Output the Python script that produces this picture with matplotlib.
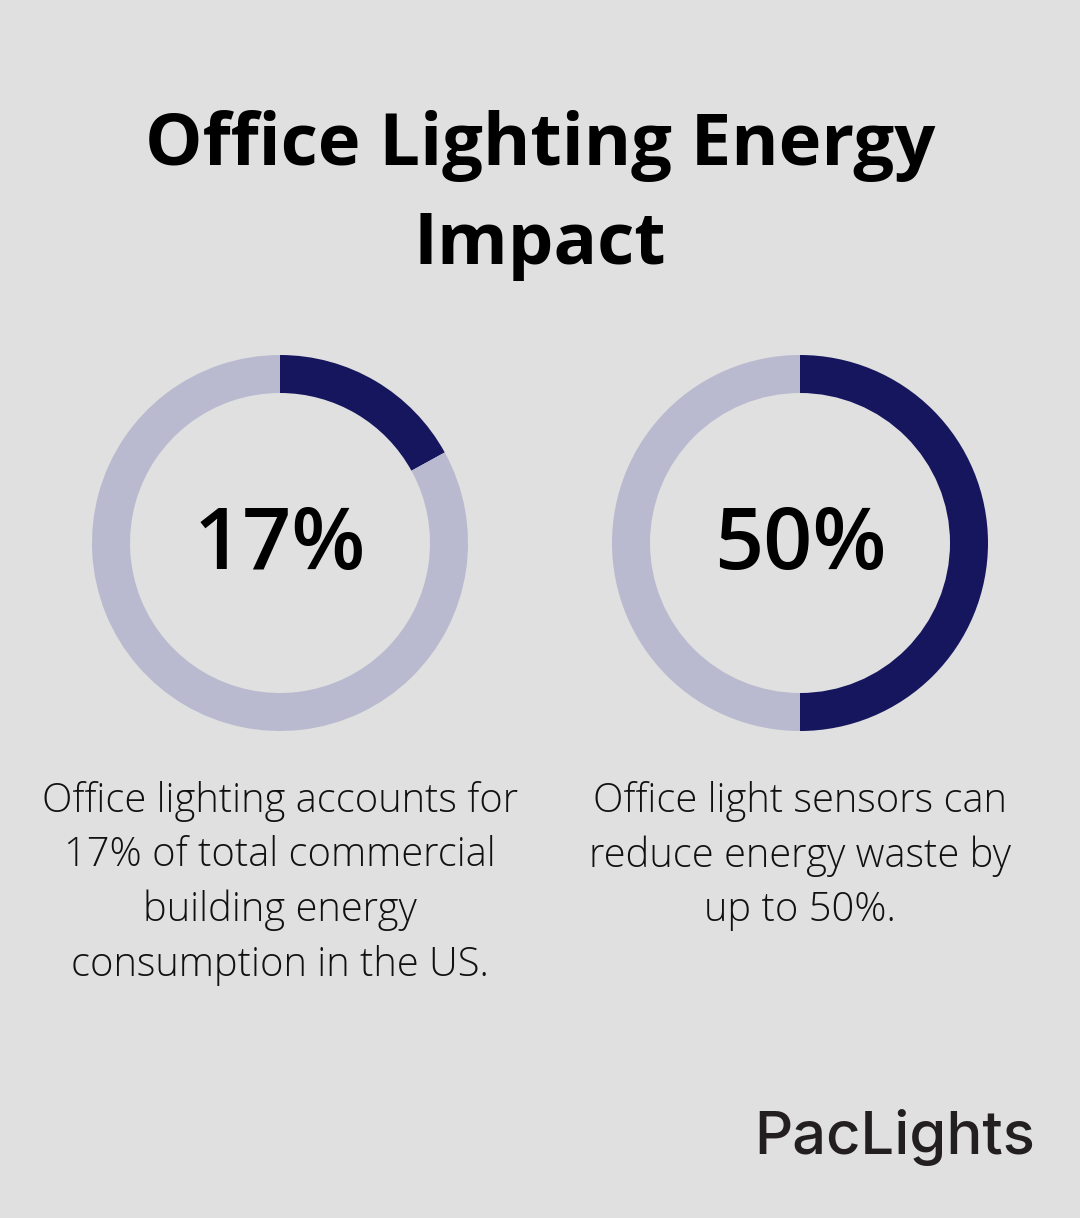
import matplotlib
matplotlib.use("Agg")
import matplotlib.pyplot as plt

W, H = 1080, 1218
BG = "#dfe0df"
DARK = "#16165e"
LIGHT = "#b9bacf"

title_lines = ["Office Lighting Energy", "Impact"]
percent_values = [17, 50]
percent_labels = ["17%", "50%"]
descriptions = [
    "Office lighting accounts for\n17% of total commercial\nbuilding energy\nconsumption in the US.",
    "Office light sensors can\nreduce energy waste by\nup to 50%.",
]
brand = "PacLights"

fig = plt.figure(figsize=(W / 100, H / 100), dpi=100, facecolor=BG)

def fx(px):
    return px / W

def fy(py):
    return 1 - py / H

# Title
fig.text(fx(540), fy(146), title_lines[0], ha="center", va="center",
         fontsize=52, fontweight="bold", family="Open Sans", color="#000000")
fig.text(fx(540), fy(245), title_lines[1], ha="center", va="center",
         fontsize=52, fontweight="bold", family="Open Sans", color="#000000")

centers_x = [280, 800]
cy = 543
R = 188
ring_w = 38

for cx, val, lab, desc in zip(centers_x, percent_values, percent_labels, descriptions):
    ax = fig.add_axes([fx(cx - R), fy(cy + R), R * 2 / W, R * 2 / H])
    ax.set_facecolor("none")
    ax.pie([val, 100 - val], colors=[DARK, LIGHT], startangle=90,
           counterclock=False, radius=1,
           wedgeprops=dict(width=ring_w / R, linewidth=0))
    ax.set_aspect("equal")
    ax.set_xlim(-1, 1)
    ax.set_ylim(-1, 1)
    ax.axis("off")
    fig.text(fx(cx), fy(547), lab, ha="center", va="center",
             fontsize=62, fontweight="semibold", family="Open Sans", color="#000000")
    fig.text(fx(cx), fy(781), desc, ha="center", va="top", linespacing=1.43,
             fontsize=28.7, fontweight="light", family="Open Sans", color="#111111")

fig.text(fx(1035), fy(1137), brand, ha="right", va="center",
         fontsize=43, fontweight="medium", family="Inter", color="#231f20")

fig.savefig("out.png", dpi=100, facecolor=BG)
